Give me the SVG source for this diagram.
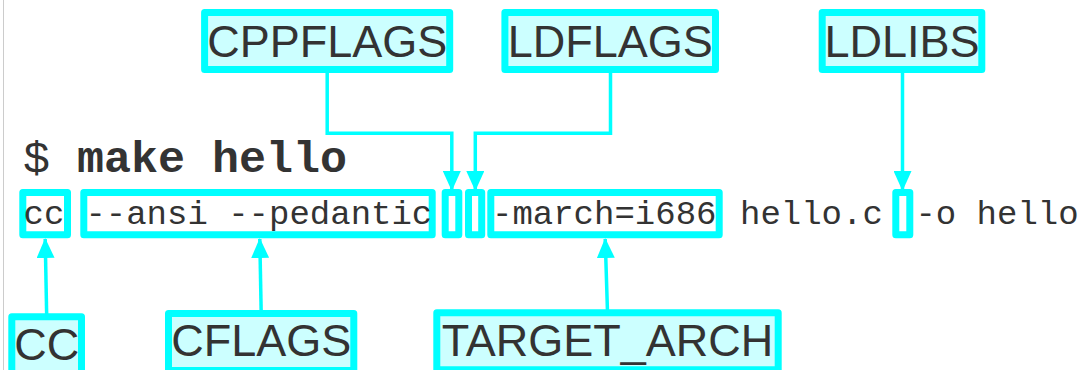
<svg xmlns="http://www.w3.org/2000/svg" width="1083" height="370" viewBox="0 0 1083 370">
  <style>
    .lbl { fill: #ccffff; stroke: #00ffff; stroke-width: 7; stroke-linejoin: round; }
    .hl { fill: #ffffff; stroke: #00ffff; stroke-width: 7; stroke-linejoin: round; }
    .lt { font-family: "Liberation Sans", Arial, sans-serif; font-size: 45px; fill: #333333; text-anchor: middle; }
    .mono { font-family: "Liberation Mono", "Courier New", monospace; font-size: 34px; fill: #333333; }
    .cmd { font-family: "Liberation Mono", "Courier New", monospace; font-size: 45px; fill: #333333; }
    .conn { fill: none; stroke: #00ffff; stroke-width: 3.5; stroke-linejoin: miter; }
  </style>
  <defs>
    <marker id="arr" viewBox="0 0 20 18" refX="19" refY="9" markerWidth="20" markerHeight="18" markerUnits="userSpaceOnUse" orient="auto">
      <path d="M0,0 L20,9 L0,18 z" fill="#00ffff"/>
    </marker>
  </defs>
  <rect width="1083" height="370" fill="#ffffff"/>
  <line x1="3.5" y1="0" x2="3.5" y2="370" stroke="#cccccc" stroke-width="1"/>

  <g id="command">
    <text class="cmd" x="23" y="172">$ <tspan font-weight="bold">make hello</tspan></text>
  </g>

  <g id="cmdline">
    <rect class="hl" x="22.8" y="192.5" width="44.7" height="42.3"/>
    <rect class="hl" x="83.8" y="192.5" width="348.4" height="42.3"/>
    <rect class="hl" x="445.2" y="192.5" width="13.6" height="42.3"/>
    <rect class="hl" x="468.5" y="192.5" width="13.2" height="42.3"/>
    <rect class="hl" x="490.8" y="192.5" width="228.4" height="42.3"/>
    <rect class="hl" x="895.8" y="192.5" width="14" height="42.3"/>
    <text class="mono" x="23.5" y="223.5">cc</text>
    <text class="mono" x="85.4" y="223.5">--ansi --pedantic</text>
    <text class="mono" x="492" y="223.5">-march=i686</text>
    <text class="mono" x="740" y="223.5">hello.c</text>
    <text class="mono" x="915.4" y="223.5">-o hello</text>
  </g>

  <g id="connectors">
    <path class="conn" d="M327.2,69.5 V133.3 H451.8 V190" marker-end="url(#arr)"/>
    <path class="conn" d="M610.5,69.5 V133.3 H475.3 V190" marker-end="url(#arr)"/>
    <path class="conn" d="M902.5,69.5 V190" marker-end="url(#arr)"/>
    <path class="conn" d="M46.7,316.8 L45.2,239" marker-end="url(#arr)"/>
    <path class="conn" d="M261.2,313.5 L259.8,239" marker-end="url(#arr)"/>
    <path class="conn" d="M607.5,312.8 L605.2,239" marker-end="url(#arr)"/>
  </g>

  <g id="CPPFLAGS">
    <rect class="lbl" x="204.6" y="12.5" width="245.1" height="57"/>
    <text class="lt" x="327.2" y="56.8">CPPFLAGS</text>
  </g>
  <g id="LDFLAGS">
    <rect class="lbl" x="504.9" y="12.5" width="210.6" height="57"/>
    <text class="lt" x="610.2" y="56.8">LDFLAGS</text>
  </g>
  <g id="LDLIBS">
    <rect class="lbl" x="822.2" y="12.5" width="159.6" height="57"/>
    <text class="lt" x="902" y="56.8">LDLIBS</text>
  </g>
  <g id="CC">
    <rect class="lbl" x="11.8" y="316.8" width="69.7" height="57"/>
    <text class="lt" x="46.7" y="359.5">CC</text>
  </g>
  <g id="CFLAGS">
    <rect class="lbl" x="168.5" y="313.5" width="185.3" height="57"/>
    <text class="lt" x="261.2" y="356.3">CFLAGS</text>
  </g>
  <g id="TARGET_ARCH">
    <rect class="lbl" x="436.8" y="312.8" width="341.4" height="57"/>
    <text class="lt" x="607.5" y="355.6">TARGET_ARCH</text>
  </g>
</svg>
